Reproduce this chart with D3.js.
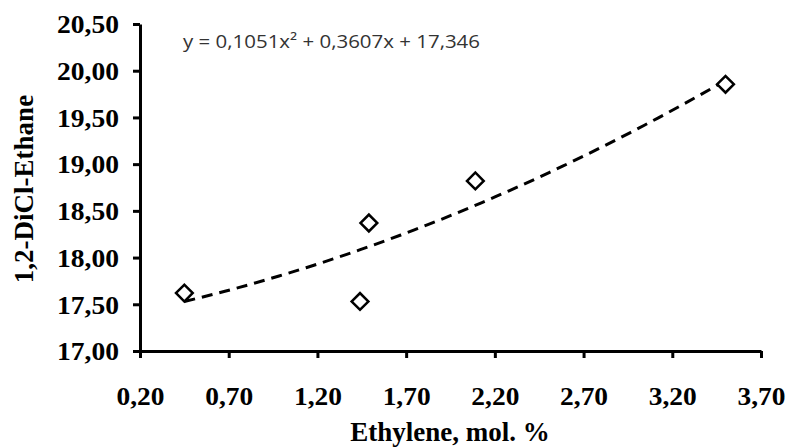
<!DOCTYPE html>
<html>
<head>
<meta charset="utf-8">
<script src="https://cdn.jsdelivr.net/npm/d3@7"></script>
<style>
  body { margin: 0; background: #fff; }
  .tick text { font-family: "Liberation Serif", "Times New Roman", serif; font-weight: bold; }
</style>
</head>
<body>
<script>
// Width and Height of the whole chart
var width = 786;
var height = 448;

// measured points
var ethylene = [0.45, 1.44, 1.49, 2.09, 3.50];
var dicl = [17.62, 17.53, 18.37, 18.82, 19.855];

// trendline y = a*x^2 + b*x + c, as printed on the chart
var trendCoef = [0.1051, 0.3607, 17.346];
var trendLabel = "y = 0,1051x\u00b2 + 0,3607x + 17,346";

var xTicks = [0.2, 0.7, 1.2, 1.7, 2.2, 2.7, 3.2, 3.7];
var yTicks = [17, 17.5, 18, 18.5, 19, 19.5, 20, 20.5];

var svg = d3.select("body")
    .append("svg")
    .attr("width", width)
    .attr("height", height);

var x = d3.scaleLinear().domain([0.2, 3.7]).range([140, 761]);
var y = d3.scaleLinear().domain([17, 20.5]).range([351, 24]);

var fmt = function(d) { return d3.format(".2f")(d).replace(".", ","); };

// x axis
var gx = svg.append("g")
    .attr("transform", "translate(0," + y(17) + ")")
    .call(d3.axisBottom(x).tickValues(xTicks).tickFormat(fmt).tickSizeInner(7).tickSizeOuter(0).tickPadding(47));
gx.select(".domain").attr("stroke-width", 3);
gx.selectAll(".tick line").attr("stroke-width", 3);
gx.selectAll(".tick text")
    .attr("font-size", 26)
    .attr("textLength", 48)
    .attr("lengthAdjust", "spacingAndGlyphs")
    .attr("dy", "0");

// y axis
var gy = svg.append("g")
    .attr("transform", "translate(" + x(0.2) + ",0)")
    .call(d3.axisLeft(y).tickValues(yTicks).tickFormat(fmt).tickSizeInner(7).tickSizeOuter(0).tickPadding(14));
gy.select(".domain").attr("stroke-width", 3);
gy.selectAll(".tick line").attr("stroke-width", 3);
gy.selectAll(".tick text")
    .attr("font-size", 26)
    .attr("textLength", 62)
    .attr("lengthAdjust", "spacingAndGlyphs")
    .attr("dy", "0.34em");

// trendline, drawn from the printed equation over the data range
var xs = d3.range(0, 41).map(function(i) {
  return ethylene[0] + (ethylene[ethylene.length - 1] - ethylene[0]) * i / 40;
});
var line = d3.line()
    .x(function(d) { return x(d); })
    .y(function(d) { return y(trendCoef[0] * d * d + trendCoef[1] * d + trendCoef[2]); });
svg.append("path")
    .datum(xs)
    .attr("d", line)
    .attr("fill", "none")
    .attr("stroke", "#000")
    .attr("stroke-width", 3)
    .attr("stroke-dasharray", "11,7");

// markers
svg.selectAll(".pt")
    .data(ethylene)
    .enter()
    .append("path")
    .attr("class", "pt")
    .attr("d", d3.symbol().type(d3.symbolSquare).size(140))
    .attr("transform", function(d, i) {
      return "translate(" + x(d) + "," + y(dicl[i]) + ") rotate(45)";
    })
    .attr("fill", "#fff")
    .attr("stroke", "#000")
    .attr("stroke-width", 2.5);

// equation
svg.append("text")
    .attr("x", 183)
    .attr("y", 48)
    .attr("font-family", "'Open Sans', sans-serif")
    .attr("font-size", 18)
    .attr("fill", "#333")
    .attr("textLength", 297)
    .attr("lengthAdjust", "spacingAndGlyphs")
    .text(trendLabel);

// axis titles
svg.append("text")
    .attr("x", 450)
    .attr("y", 441)
    .attr("text-anchor", "middle")
    .attr("font-family", "'Liberation Serif', serif")
    .attr("font-weight", "bold")
    .attr("font-size", 27)
    .text("Ethylene, mol. %");

svg.append("text")
    .attr("transform", "translate(33,189) rotate(-90)")
    .attr("text-anchor", "middle")
    .attr("font-family", "'Liberation Serif', serif")
    .attr("font-weight", "bold")
    .attr("font-size", 27)
    .text("1,2-DiCl-Ethane");
</script>
</body>
</html>
